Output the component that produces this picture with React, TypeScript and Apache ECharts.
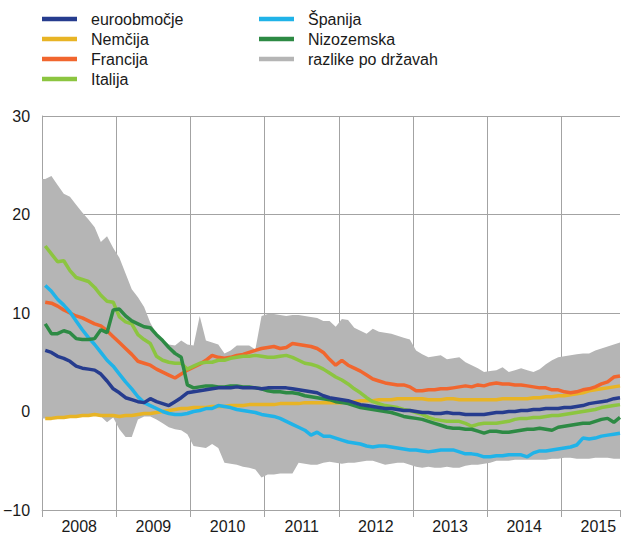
import React, { useEffect, useRef } from 'react';
import * as echarts from 'echarts';

const years = ['2008', '2009', '2010', '2011', '2012', '2013', '2014', '2015'];
const yTicks = [-10, 0, 10, 20, 30];

// monthly values, Jan 2008 – Oct 2015
const euroobmocje = [6.2,6.0,5.6,5.4,5.1,4.6,4.4,4.3,4.2,3.8,
3.1,2.3,1.9,1.4,1.2,1.0,0.9,1.3,1.0,0.8,
0.6,1.0,1.4,1.9,2.0,2.1,2.2,2.3,2.4,2.4,
2.4,2.5,2.4,2.4,2.4,2.3,2.4,2.4,2.4,2.4,
2.3,2.2,2.1,2.0,1.9,1.6,1.4,1.3,1.2,1.1,
0.9,0.7,0.6,0.5,0.4,0.3,0.3,0.2,0.1,0.1,
0.0,-0.1,-0.1,-0.2,-0.2,-0.1,-0.2,-0.2,-0.3,-0.3,
-0.3,-0.3,-0.2,-0.1,-0.1,0.0,0.0,0.1,0.1,0.2,
0.2,0.3,0.3,0.3,0.4,0.4,0.5,0.6,0.8,0.9,
1.0,1.1,1.3,1.4];

const nemcija = [-0.7,-0.7,-0.6,-0.6,-0.5,-0.5,-0.4,-0.4,-0.3,-0.4,
-0.4,-0.4,-0.5,-0.4,-0.4,-0.3,-0.2,-0.2,-0.1,0.0,
0.1,0.2,0.3,0.3,0.4,0.4,0.4,0.5,0.5,0.5,
0.6,0.6,0.6,0.7,0.7,0.7,0.7,0.7,0.8,0.8,
0.8,0.8,0.9,0.9,0.9,0.9,0.9,0.9,0.9,1.0,
1.0,1.1,1.1,1.1,1.2,1.2,1.2,1.3,1.3,1.3,
1.3,1.3,1.2,1.2,1.2,1.3,1.3,1.2,1.2,1.2,
1.2,1.2,1.2,1.2,1.3,1.3,1.3,1.3,1.3,1.4,
1.4,1.5,1.5,1.6,1.6,1.7,1.8,1.9,2.1,2.2,
2.3,2.4,2.5,2.6];

const francija = [11.1,11.0,10.7,10.3,10.0,9.7,9.5,9.2,8.9,8.7,
8.2,7.6,7.0,6.4,5.8,5.1,4.9,4.7,4.3,4.0,
3.7,3.4,3.8,4.2,4.5,4.8,5.2,5.7,5.5,5.4,
5.5,5.7,5.8,6.0,6.2,6.4,6.5,6.6,6.4,6.5,
6.9,6.8,6.7,6.6,6.4,6.0,5.3,4.7,5.2,4.7,
4.4,4.1,3.7,3.3,3.1,2.9,2.8,2.7,2.7,2.5,
2.1,2.1,2.2,2.2,2.3,2.3,2.4,2.5,2.6,2.5,
2.7,2.6,2.8,2.9,2.8,2.8,2.7,2.7,2.6,2.5,
2.4,2.4,2.2,2.2,2.0,1.9,2.0,2.2,2.3,2.5,
2.8,3.0,3.5,3.6];

const italija = [16.8,16.0,15.2,15.3,14.3,13.6,13.4,13.2,12.6,11.8,
11.2,11.1,9.6,9.1,8.9,7.8,7.3,6.9,5.6,5.2,
5.0,4.9,4.9,4.3,4.6,4.9,5.0,5.0,5.2,5.2,
5.4,5.5,5.6,5.6,5.7,5.6,5.5,5.5,5.6,5.7,
5.5,5.2,4.9,4.8,4.6,4.3,3.9,3.5,3.2,2.8,
2.3,1.9,1.4,1.0,0.8,0.6,0.5,0.4,0.2,0.1,
-0.1,-0.3,-0.6,-0.8,-0.9,-1.0,-1.0,-1.0,-1.2,-1.5,
-1.3,-1.2,-1.2,-1.2,-1.1,-1.0,-0.8,-0.7,-0.7,-0.6,
-0.6,-0.5,-0.4,-0.4,-0.3,-0.2,-0.1,0.0,0.1,0.2,
0.4,0.5,0.6,0.7];

const spanija = [12.8,12.2,11.4,10.8,10.1,9.2,8.3,7.5,6.8,6.0,
5.2,4.6,3.8,3.0,2.3,1.5,0.9,0.6,0.3,0.0,
-0.2,-0.3,-0.3,-0.2,0.0,0.1,0.3,0.3,0.6,0.5,
0.4,0.2,0.1,0.0,-0.1,-0.3,-0.4,-0.5,-0.7,-1.0,
-1.3,-1.6,-1.9,-2.4,-2.1,-2.5,-2.5,-2.7,-2.9,-3.1,
-3.2,-3.3,-3.5,-3.6,-3.5,-3.5,-3.6,-3.7,-3.8,-3.9,
-3.9,-4.0,-4.1,-4.0,-3.9,-3.9,-3.9,-4.1,-4.3,-4.3,
-4.4,-4.6,-4.6,-4.5,-4.5,-4.4,-4.4,-4.4,-4.6,-4.2,
-4.0,-4.0,-3.9,-3.8,-3.7,-3.6,-3.4,-2.7,-2.8,-2.7,
-2.5,-2.4,-2.3,-2.2];

const nizozemska = [8.9,7.9,7.9,8.2,8.0,7.4,7.3,7.3,7.4,8.3,
8.0,10.3,10.4,9.7,9.2,8.9,8.6,8.5,7.8,7.2,
6.5,5.9,5.5,2.7,2.4,2.5,2.6,2.6,2.5,2.5,
2.6,2.6,2.5,2.5,2.4,2.3,2.1,2.0,2.0,1.9,
1.9,1.8,1.6,1.5,1.4,1.3,1.2,1.0,0.9,0.8,
0.6,0.4,0.3,0.2,0.1,0.0,-0.1,-0.3,-0.5,-0.6,
-0.7,-0.8,-1.0,-1.2,-1.4,-1.6,-1.7,-1.7,-1.8,-1.8,
-2.0,-2.2,-2.0,-2.0,-2.1,-2.1,-2.0,-1.9,-1.8,-1.8,
-1.7,-1.8,-1.9,-1.6,-1.5,-1.4,-1.3,-1.2,-1.2,-1.0,
-0.8,-0.7,-1.1,-0.6];

// range across countries (max / min)
const razlikeMax = [23.6,23.9,23.0,22.1,21.8,21.0,20.2,19.5,18.7,17.2,
17.8,16.6,15.6,14.0,12.4,11.6,10.6,9.0,7.9,7.2,
6.8,6.7,7.2,6.8,6.7,9.7,7.2,7.0,6.8,5.9,
6.2,6.7,6.7,6.7,6.3,9.7,9.9,9.9,9.8,9.7,
9.8,9.8,9.7,9.6,9.5,9.2,9.2,8.6,9.4,9.3,
8.5,8.2,7.9,8.4,8.1,8.0,7.9,7.7,7.5,7.3,
6.2,5.8,5.5,5.6,5.7,5.3,5.4,5.5,5.0,4.7,
4.4,4.0,4.1,4.2,4.5,4.0,4.2,4.4,4.2,4.0,
4.3,4.8,5.2,5.5,5.6,5.7,5.8,5.9,5.9,6.2,
6.4,6.6,6.8,7.0];

const razlikeMin = [-0.7,-0.7,-0.6,-0.6,-0.5,-0.5,-0.4,-0.4,-0.3,-0.5,
-1.1,-0.6,-1.8,-2.6,-2.6,-0.8,-0.5,-0.5,-0.8,-1.2,
-1.6,-1.8,-1.9,-2.3,-3.5,-3.6,-3.7,-3.3,-3.7,-5.2,
-5.3,-5.4,-5.6,-5.7,-5.9,-6.7,-6.4,-6.4,-6.3,-6.3,
-6.3,-5.2,-5.3,-5.4,-5.4,-5.2,-5.1,-5.2,-5.3,-5.2,
-5.2,-5.1,-5.0,-5.0,-5.2,-5.4,-5.3,-5.2,-5.2,-5.4,
-5.6,-5.7,-5.6,-5.7,-5.7,-5.6,-5.7,-5.7,-5.5,-5.4,
-5.4,-5.3,-5.2,-5.0,-5.0,-5.0,-4.9,-4.9,-4.9,-4.9,
-4.9,-4.9,-4.8,-4.8,-4.7,-4.7,-4.8,-4.8,-4.8,-4.7,
-4.7,-4.7,-4.8,-4.8];

const FONT = "'Liberation Sans', Arial, Helvetica, sans-serif";
const GRID = '#a3a3a3';
const TEXT = '#1a1a1a';
const BAND = '#b5b5b5';

const pts = (arr: number[]) => arr.map((v, i) => [i + 0.5, v]);

const lineSeries = (name: string, data: number[], color: string) => ({
  name,
  type: 'line',
  data: pts(data),
  color,
  showSymbol: false,
  symbol: 'none',
  lineStyle: { width: 3.5, color },
  itemStyle: { color },
  silent: true,
  z: 3,
});

export default function App() {
  const ref = useRef<HTMLDivElement>(null);
  useEffect(() => {
    document.body.style.margin = '0';
    const chart = echarts.init(ref.current!, null, { renderer: 'svg' });
    const nMonths = euroobmocje.length;
    const xMax = nMonths - 0.5;
    const legendText = { fontSize: 16, color: TEXT, fontFamily: FONT, lineHeight: 16, padding: [0, 0, 0, 9] };
    chart.setOption({
      animation: false,
      grid: { left: 42, right: 1, top: 116, bottom: 43, containLabel: false },
      legend: [
        {
          orient: 'vertical', left: 42, top: 11, padding: 0, itemGap: 4,
          icon: 'rect', itemWidth: 35, itemHeight: 4.5,
          textStyle: legendText, selectedMode: false,
          data: ['euroobmočje', 'Nemčija', 'Francija', 'Italija'],
        },
        {
          orient: 'vertical', left: 259, top: 11, padding: 0, itemGap: 4,
          icon: 'rect', itemWidth: 35, itemHeight: 4.5,
          textStyle: legendText, selectedMode: false,
          data: ['Španija', 'Nizozemska', 'razlike po državah'],
        },
      ],
      xAxis: {
        type: 'value', min: 0, max: xMax, interval: 12,
        axisLine: { show: true, onZero: false, lineStyle: { color: GRID, width: 1 } },
        axisTick: { show: true, length: 7, lineStyle: { color: GRID } },
        splitLine: { show: true, showMaxLine: false, lineStyle: { color: GRID, width: 1 } },
        axisLabel: {
          customValues: years.map((_, i) => i * 12 + 6),
          formatter: (v: number) => years[Math.floor(v / 12)] ?? '',
          fontSize: 16, color: TEXT, fontFamily: FONT, margin: 8,
        },
      },
      yAxis: {
        type: 'value', min: yTicks[0], max: yTicks[yTicks.length - 1], interval: 10,
        axisLine: { show: true, onZero: false, lineStyle: { color: GRID, width: 1 } },
        axisTick: { show: false },
        splitLine: { show: true, lineStyle: { color: GRID, width: 1 } },
        axisLabel: {
          formatter: (v: number) => (v < 0 ? '\u2212' + Math.abs(v) : String(v)),
          fontSize: 16, color: TEXT, fontFamily: FONT, margin: 12,
        },
      },
      series: [
        {
          name: 'razlike po državah',
          type: 'custom',
          coordinateSystem: 'cartesian2d',
          color: BAND,
          itemStyle: { color: BAND },
          data: [[0, 0]],
          silent: true,
          z: 1,
          renderItem: (params: any, api: any) => {
            if (params.dataIndex !== 0) return null;
            const top: number[][] = [api.coord([0, razlikeMax[0]])];
            razlikeMax.forEach((v, i) => top.push(api.coord([i + 0.5, v])));
            const bottom: number[][] = [];
            razlikeMin.forEach((v, i) => bottom.push(api.coord([i + 0.5, v])));
            bottom.unshift(api.coord([0, razlikeMin[0]]));
            const points = top.concat(bottom.reverse());
            return { type: 'polygon', shape: { points }, style: { fill: BAND } };
          },
        },
        lineSeries('Nemčija', nemcija, '#e8b425'),
        lineSeries('Francija', francija, '#f1662e'),
        lineSeries('Italija', italija, '#8cc540'),
        lineSeries('Španija', spanija, '#20b3e8'),
        lineSeries('Nizozemska', nizozemska, '#2d8a44'),
        lineSeries('euroobmočje', euroobmocje, '#263c8e'),
      ],
    });
    return () => chart.dispose();
  }, []);
  return <div ref={ref} style={{ width: 621, height: 553 }} />;
}
